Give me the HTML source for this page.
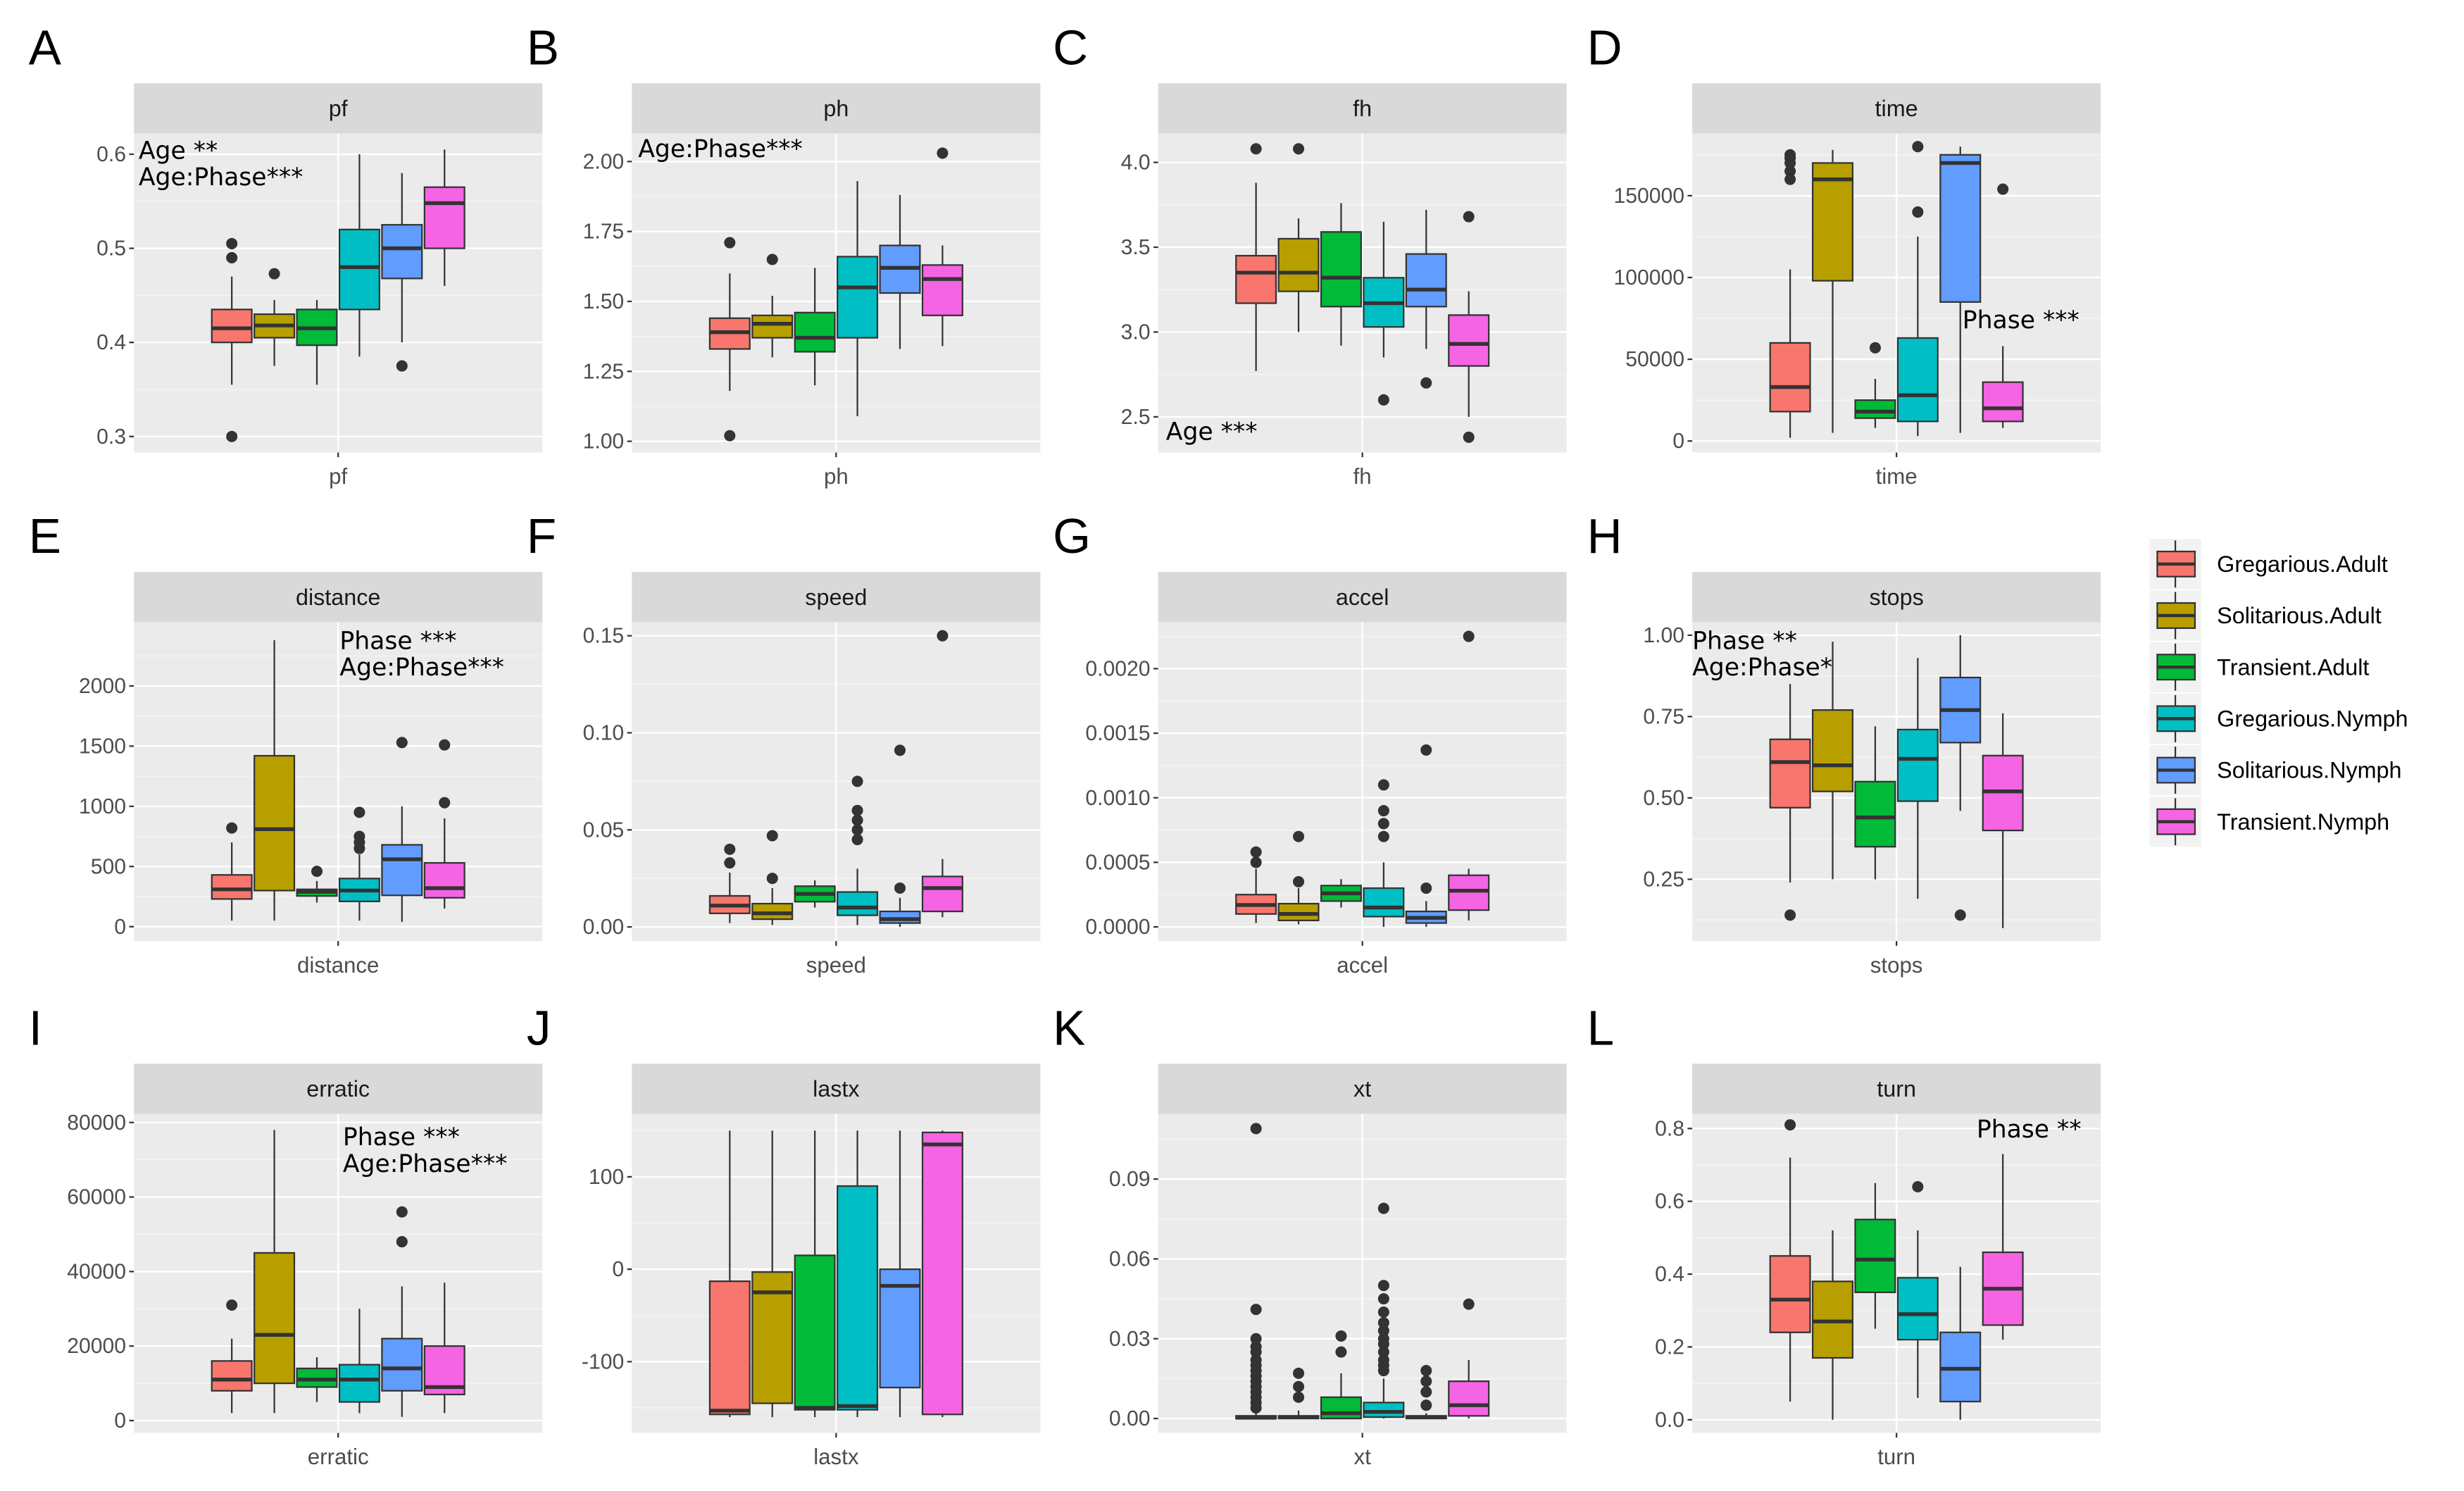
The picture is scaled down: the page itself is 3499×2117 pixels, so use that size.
<!DOCTYPE html>
<html><head><meta charset="utf-8">
<style>
html,body{margin:0;padding:0;background:#fff;}
svg{display:block;font-family:"Liberation Sans","DejaVu Sans",sans-serif;}
</style></head>
<body>
<svg id="fig" width="3499" height="2117" viewBox="0 0 1568 949" xmlns="http://www.w3.org/2000/svg"></svg>
<script>
// ---- data ----
const groups = ["Gregarious.Adult","Solitarious.Adult","Transient.Adult","Gregarious.Nymph","Solitarious.Nymph","Transient.Nymph"];
const colors = ["#F8766D","#B79F00","#00BA38","#00BFC4","#619CFF","#F564E3"];
const panelNames = ["pf","ph","fh","time","distance","speed","accel","stops","erratic","lastx","xt","turn"];
const panelLetters = ["A","B","C","D","E","F","G","H","I","J","K","L"];
const stats_pf = [[0.355,0.40,0.415,0.435,0.47],[0.375,0.405,0.418,0.43,0.445],[0.355,0.397,0.415,0.435,0.445],[0.385,0.435,0.48,0.52,0.60],[0.40,0.468,0.50,0.525,0.58],[0.46,0.50,0.548,0.565,0.605]];
const stats_ph = [[1.18,1.33,1.39,1.44,1.60],[1.30,1.37,1.42,1.45,1.52],[1.20,1.32,1.37,1.46,1.62],[1.09,1.37,1.55,1.66,1.93],[1.33,1.53,1.62,1.70,1.88],[1.34,1.45,1.58,1.63,1.70]];
const stats_fh = [[2.77,3.17,3.35,3.45,3.88],[3.0,3.24,3.35,3.55,3.67],[2.92,3.15,3.32,3.59,3.76],[2.85,3.03,3.17,3.32,3.65],[2.9,3.15,3.25,3.46,3.72],[2.5,2.8,2.93,3.1,3.24]];
const stats_time = [[2000,18000,33000,60000,105000],[5000,98000,160000,170000,178000],[8000,14000,18000,25000,38000],[3000,12000,28000,63000,125000],[5000,85000,170000,175000,180000],[8000,12000,20000,36000,58000]];
const stats_distance = [[50,230,310,430,700],[50,300,810,1420,2380],[200,255,290,310,380],[50,210,300,400,600],[40,260,560,680,1000],[150,240,320,530,900]];
const stats_speed = [[0.002,0.007,0.011,0.016,0.028],[0.001,0.004,0.007,0.012,0.02],[0.01,0.013,0.017,0.021,0.024],[0.001,0.006,0.01,0.018,0.03],[0.0,0.002,0.004,0.008,0.015],[0.005,0.008,0.02,0.026,0.035]];
const stats_accel = [[0.00003,0.0001,0.00017,0.00025,0.00045],[0.00002,0.00005,0.0001,0.00018,0.0003],[0.00015,0.0002,0.00026,0.00032,0.00037],[0.0,0.00008,0.00015,0.0003,0.0005],[0.0,0.00003,0.00007,0.00012,0.0002],[0.00005,0.00013,0.00028,0.0004,0.00045]];
const stats_stops = [[0.24,0.47,0.61,0.68,0.85],[0.25,0.52,0.60,0.77,0.98],[0.25,0.35,0.44,0.55,0.72],[0.19,0.49,0.62,0.71,0.93],[0.46,0.67,0.77,0.87,1.0],[0.10,0.40,0.52,0.63,0.76]];
const stats_erratic = [[2000,8000,11000,16000,22000],[2000,10000,23000,45000,78000],[5000,9000,11000,14000,17000],[2000,5000,11000,15000,30000],[1000,8000,14000,22000,36000],[2000,7000,9000,20000,37000]];
const stats_lastx = [[-160,-157,-153,-13,150],[-160,-145,-25,-3,150],[-160,-152,-150,15,150],[-160,-152,-148,90,150],[-160,-128,-18,0,150],[-160,-157,135,148,150]];
const stats_xt = [[0,0,0.0003,0.001,0.002],[0,0,0.0005,0.001,0.003],[0,0,0.002,0.008,0.017],[0,0.0005,0.0025,0.006,0.015],[0,0,0.0005,0.001,0.002],[0,0.001,0.005,0.014,0.022]];
const stats_turn = [[0.05,0.24,0.33,0.45,0.72],[0.0,0.17,0.27,0.38,0.52],[0.25,0.35,0.44,0.55,0.65],[0.06,0.22,0.29,0.39,0.52],[0.0,0.05,0.14,0.24,0.42],[0.22,0.26,0.36,0.46,0.73]];
const out_pf = [[0.3,0.49,0.505],[0.473],[],[],[0.375],[]];
const out_ph = [[1.02,1.71],[1.65],[],[],[],[2.03]];
const out_fh = [[4.08],[4.08],[],[2.6],[2.7],[3.68,2.38]];
const out_time = [[160000,165000,170000,173000,175000],[],[57000],[140000,180000],[],[154000]];
const out_distance = [[820],[],[460],[650,700,750,950],[1530],[1030,1510]];
const out_speed = [[0.033,0.04],[0.025,0.047],[],[0.045,0.05,0.055,0.06,0.075],[0.02,0.091],[0.15]];
const out_accel = [[0.0005,0.00058],[0.00035,0.0007],[],[0.0007,0.0008,0.0009,0.0011],[0.0003,0.00137],[0.00225]];
const out_stops = [[0.14],[],[],[],[0.14],[]];
const out_erratic = [[31000],[],[],[],[48000,56000],[]];
const out_lastx = [[],[],[],[],[],[]];
const out_xt = [[0.004,0.006,0.008,0.01,0.012,0.014,0.016,0.018,0.02,0.022,0.025,0.027,0.03,0.041,0.109],[0.008,0.012,0.017],[0.025,0.031],[0.018,0.02,0.022,0.025,0.028,0.03,0.033,0.036,0.04,0.045,0.05,0.079],[0.005,0.01,0.014,0.018],[0.043]];
const out_turn = [[0.81],[],[],[0.64],[],[]];
const ticks_pf=[0.3,0.4,0.5,0.6], labels_pf=["0.3","0.4","0.5","0.6"];
const ticks_ph=[1.0,1.25,1.5,1.75,2.0], labels_ph=["1.00","1.25","1.50","1.75","2.00"];
const ticks_fh=[2.5,3.0,3.5,4.0], labels_fh=["2.5","3.0","3.5","4.0"];
const ticks_time=[0,50000,100000,150000], labels_time=["0","50000","100000","150000"];
const ticks_distance=[0,500,1000,1500,2000], labels_distance=["0","500","1000","1500","2000"];
const ticks_speed=[0,0.05,0.10,0.15], labels_speed=["0.00","0.05","0.10","0.15"];
const ticks_accel=[0,0.0005,0.001,0.0015,0.002], labels_accel=["0.0000","0.0005","0.0010","0.0015","0.0020"];
const ticks_stops=[0.25,0.5,0.75,1.0], labels_stops=["0.25","0.50","0.75","1.00"];
const ticks_erratic=[0,20000,40000,60000,80000], labels_erratic=["0","20000","40000","60000","80000"];
const ticks_lastx=[-100,0,100], labels_lastx=["-100","0","100"];
const ticks_xt=[0,0.03,0.06,0.09], labels_xt=["0.00","0.03","0.06","0.09"];
const ticks_turn=[0,0.2,0.4,0.6,0.8], labels_turn=["0.0","0.2","0.4","0.6","0.8"];
const dom_pf=[0.283,0.622], dom_ph=[0.96,2.10], dom_fh=[2.29,4.17], dom_time=[-7000,188000];
const dom_distance=[-120,2530], dom_speed=[-0.0073,0.157], dom_accel=[-0.00011,0.00236], dom_stops=[0.06,1.04];
const dom_erratic=[-3300,82300], dom_lastx=[-177,168], dom_xt=[-0.0054,0.1145], dom_turn=[-0.036,0.84];
const ann = [["Age **","Age:Phase***"],["Age:Phase***"],["Age ***"],["Phase ***"],["Phase ***","Age:Phase***"],[],[],["Phase **","Age:Phase*"],["Phase ***","Age:Phase***"],[],[],["Phase **"]];

const S = {pf:stats_pf,ph:stats_ph,fh:stats_fh,time:stats_time,distance:stats_distance,speed:stats_speed,accel:stats_accel,stops:stats_stops,erratic:stats_erratic,lastx:stats_lastx,xt:stats_xt,turn:stats_turn};
const O = {pf:out_pf,ph:out_ph,fh:out_fh,time:out_time,distance:out_distance,speed:out_speed,accel:out_accel,stops:out_stops,erratic:out_erratic,lastx:out_lastx,xt:out_xt,turn:out_turn};
const T = {pf:ticks_pf,ph:ticks_ph,fh:ticks_fh,time:ticks_time,distance:ticks_distance,speed:ticks_speed,accel:ticks_accel,stops:ticks_stops,erratic:ticks_erratic,lastx:ticks_lastx,xt:ticks_xt,turn:ticks_turn};
const L = {pf:labels_pf,ph:labels_ph,fh:labels_fh,time:labels_time,distance:labels_distance,speed:labels_speed,accel:labels_accel,stops:labels_stops,erratic:labels_erratic,lastx:labels_lastx,xt:labels_xt,turn:labels_turn};
const D = {pf:dom_pf,ph:dom_ph,fh:dom_fh,time:dom_time,distance:dom_distance,speed:dom_speed,accel:dom_accel,stops:dom_stops,erratic:dom_erratic,lastx:dom_lastx,xt:dom_xt,turn:dom_turn};

const colX = [85,402,737,1077], panelW = 260;
const rowTop = [53,364,677], stripH = 32, plotH = 203;
const annX = [88,406,742,1249,216,0,0,1077,218,0,0,1258];
const annY = [101,100,280,209,413,0,0,413,729,0,0,724];

const NS="http://www.w3.org/2000/svg";
const svg=document.getElementById('fig');
function el(tag,attrs,parent){const e=document.createElementNS(NS,tag);for(const k in attrs)e.setAttribute(k,attrs[k]);(parent||svg).appendChild(e);return e;}

panelNames.forEach((name,p)=>{
  const col=p%4,row=Math.floor(p/4);
  const x0=colX[col], top=rowTop[row], pt=top+stripH, pb=pt+plotH;
  const g=el('g',{});
  
  
  const dom=D[name];
  const y=v=>pb-(v-dom[0])/(dom[1]-dom[0])*plotH;
  const cx=x0+panelW/2, unit=panelW/1.2, bw=0.75/6*unit;
  const xg=i=>cx+(i-2.5)*bw;
  const lt=el('text',{x:x0-67,y:top-12,'font-size':31,fill:'#000'},g);
  
  
  lt.textContent=panelLetters[p];
  const st=el('rect',{x:x0,y:top,width:panelW,height:stripH,fill:'#D9D9D9'},g);
  
  
  const stt=el('text',{x:cx,y:top+21,'font-size':14.5,fill:'#1A1A1A','text-anchor':'middle'},g);
  
  
  stt.textContent=name;
  const bg=el('rect',{x:x0,y:pt,width:panelW,height:plotH,fill:'#EBEBEB'},g);
  
  
  const ticks=T[name], step=ticks[1]-ticks[0];
  for(let v=ticks[0]-step*1.5; v<=dom[1]; v+=step){
    if(v<dom[0]) continue;
    const yy=y(v);
    const m=el('line',{x1:x0,x2:x0+panelW,y1:yy,y2:yy,stroke:'#F5F5F5','stroke-width':0.6},g);
    
    
  }
  ticks.forEach((v,i)=>{
    const yy=y(v);
    const gl=el('line',{x1:x0,x2:x0+panelW,y1:yy,y2:yy,stroke:'#fff','stroke-width':1.1},g);
    
    
    const tk=el('line',{x1:x0-3,x2:x0,y1:yy,y2:yy,stroke:'#333','stroke-width':1},g);
    
    
    const tl=el('text',{x:x0-5,y:yy+4.5,'font-size':13.5,fill:'#4D4D4D','text-anchor':'end'},g);
    
    
    tl.textContent=L[name][i];
  });
  const vg=el('line',{x1:cx,x2:cx,y1:pt,y2:pb,stroke:'#fff','stroke-width':1.1},g);
  
  
  const xt=el('line',{x1:cx,x2:cx,y1:pb,y2:pb+3,stroke:'#333','stroke-width':1},g);
  
  
  const xl=el('text',{x:cx,y:pb+20,'font-size':14,fill:'#4D4D4D','text-anchor':'middle'},g);
  
  
  xl.textContent=name;
  S[name].forEach((s,i)=>{
    const bx=xg(i), hw=bw*0.47;
    const bg2=el('g',{},g);
    
    
    el('line',{x1:bx,x2:bx,y1:y(s[0]),y2:y(s[1]),stroke:'#333','stroke-width':1},bg2);
    el('line',{x1:bx,x2:bx,y1:y(s[3]),y2:y(s[4]),stroke:'#333','stroke-width':1},bg2);
    el('rect',{x:bx-hw,y:y(s[3]),width:hw*2,height:Math.max(0.5,y(s[1])-y(s[3])),fill:colors[i],stroke:'#333','stroke-width':1},bg2);
    el('line',{x1:bx-hw,x2:bx+hw,y1:y(s[2]),y2:y(s[2]),stroke:'#333','stroke-width':2.4},bg2);
    O[name][i].forEach(v=>{
      const c=el('circle',{cx:bx,cy:y(v),r:3.6,fill:'#333'},bg2);
      
      
    });
  });
  ann[p].forEach((t,k)=>{
    const a=el('text',{x:annX[p],y:annY[p]+k*17,'font-size':15.5,fill:'#000','font-family':'"DejaVu Sans", sans-serif'},g);
    
    
    a.textContent=t;
  });
});

const lg=el('g',{});


groups.forEach((gname,i)=>{
  const cy=359+i*32.8;
  const e=el('g',{},lg);
  
  
  el('rect',{x:1368,y:cy-16,width:33,height:32,fill:'#F2F2F2'},e);
  el('line',{x1:1384.5,x2:1384.5,y1:cy-15,y2:cy+15,stroke:'#333','stroke-width':1},e);
  el('rect',{x:1373,y:cy-8,width:24,height:16,fill:colors[i],stroke:'#333','stroke-width':1},e);
  el('line',{x1:1373,x2:1397,y1:cy,y2:cy,stroke:'#333','stroke-width':2},e);
  const t=el('text',{x:1411,y:cy+5,'font-size':14.5,fill:'#000'},e);
  t.textContent=gname;
});
</script>
</body></html>
